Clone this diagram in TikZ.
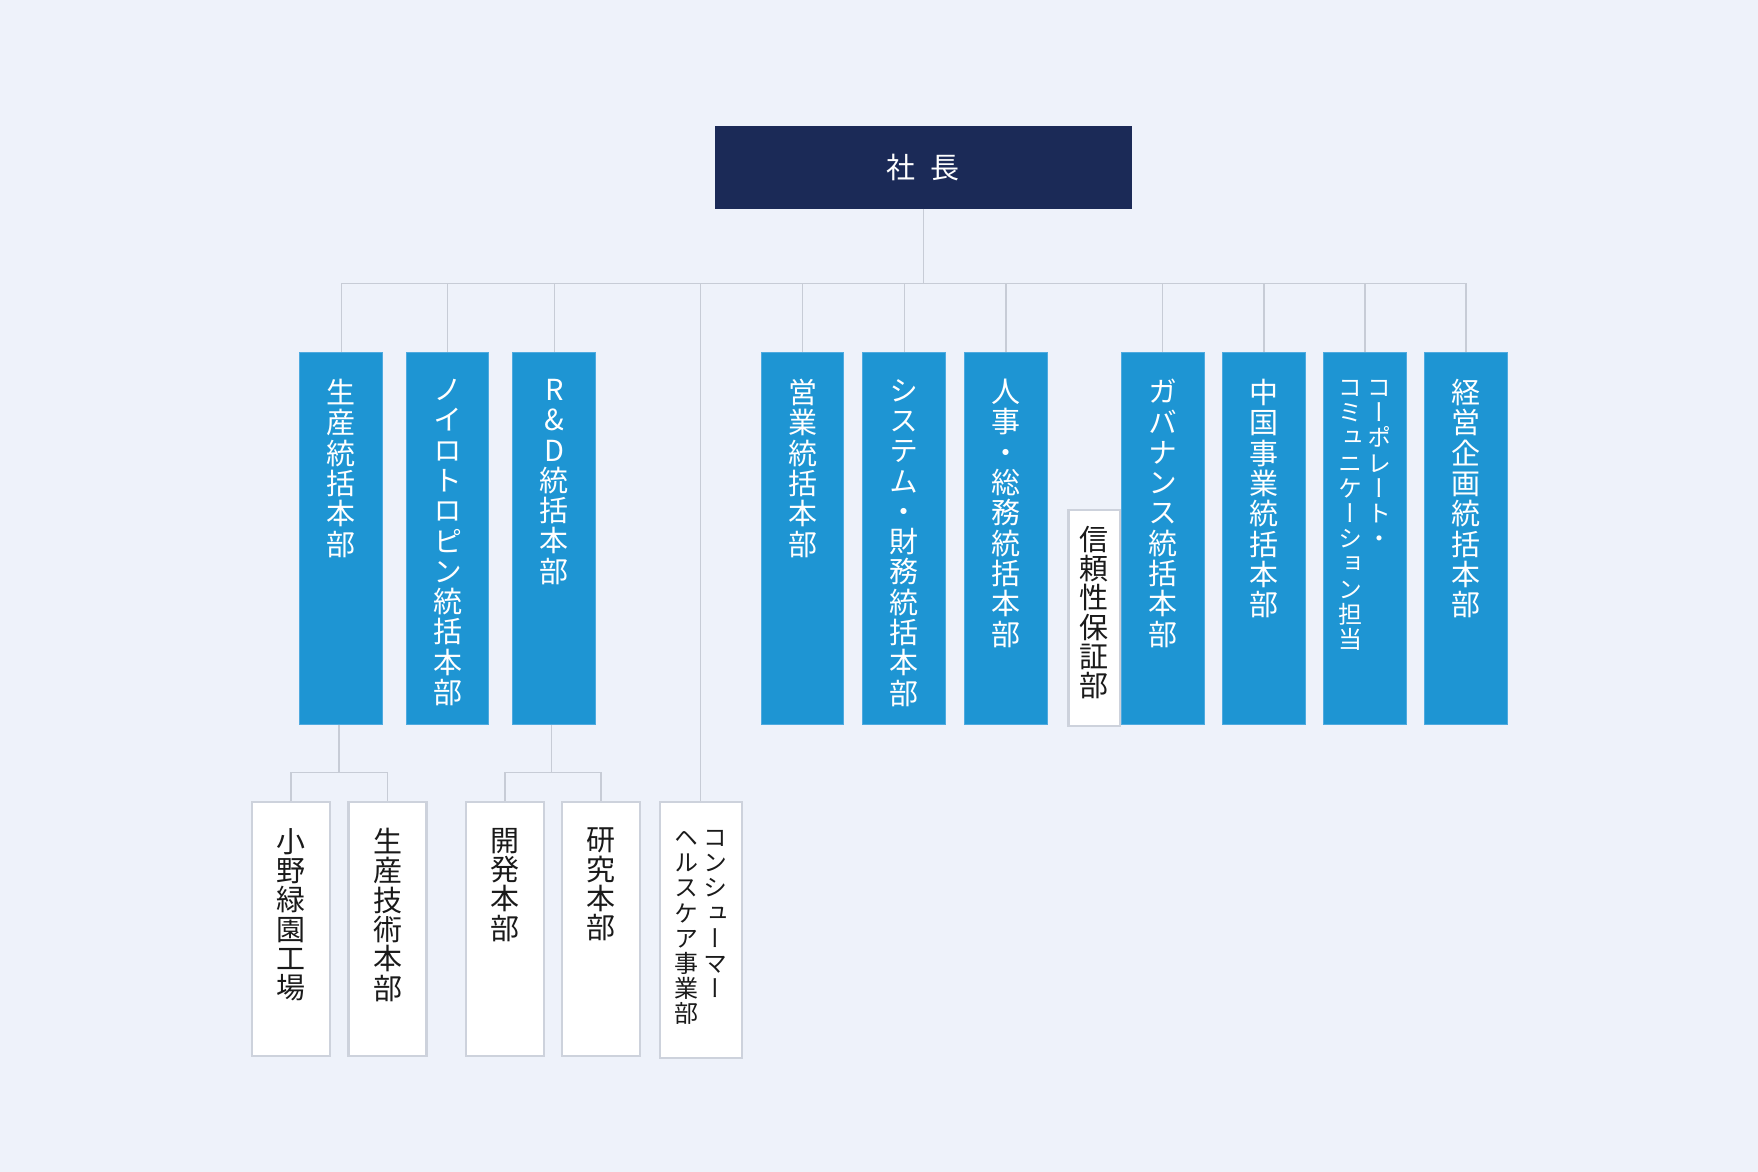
\documentclass[tikz,border=0pt]{standalone}
\usepackage{fontspec}
\setmainfont{Noto Sans CJK JP}
\newfontfamily\vjp{Noto Sans CJK JP}[RawFeature=+vert]
\usetikzlibrary{positioning}

\definecolor{bgc}{HTML}{EEF2FA}
\definecolor{navy}{HTML}{1B2A57}
\definecolor{deptblue}{HTML}{1E95D3}
\definecolor{deptedge}{HTML}{4FAADF}
\definecolor{lineg}{HTML}{C7CCD6}
\definecolor{boxedge}{HTML}{CDD2DC}
\definecolor{ink}{HTML}{1A1A1A}

% stack the characters of #1 one under the other
\newcommand\vtxt[1]{\edef\vtmp{#1}\vtop{\lineskiplimit=-50pt\expandafter\vtxtA\vtmp\relax}}
\newcommand\vtxtA[1]{\ifx\relax#1\else\hbox to 1em{\hss#1\hss}\expandafter\vtxtA\fi}

\begin{document}
\begin{tikzpicture}[x=1pt,y=-1pt,
  chief/.style={fill=navy,text=white,minimum width=416.7,minimum height=83,inner sep=0,
    font=\fontsize{29}{30}\selectfont},
  dept/.style={fill=deptblue,draw=deptedge,line width=0.8pt,minimum width=82.7,
    minimum height=372.2,inner sep=0,anchor=north},
  sect/.style={fill=white,draw=boxedge,line width=2.2pt,minimum width=78,
    minimum height=253.8,inner sep=0,anchor=north},
  vlabel/.style={inner sep=0,text=white,font=\vjp\fontsize{29}{30.3}\selectfont},
  slabel/.style={inner sep=0,text=ink,font=\vjp\fontsize{29}{29.3}\selectfont},
  small/.style={font=\vjp\fontsize{24}{25.2}\selectfont},
  conn/.style={draw=lineg,line width=1.4pt}]

  \fill[bgc] (0,0) rectangle (1758,1172);
  \useasboundingbox (0,0) rectangle (1758,1172);

  % top
  \node[chief] (ceo) at (923.3,167.2) {社\hspace{15pt}長};

  % Departments
  \node[fill=white,draw=boxedge,line width=2.2pt,minimum width=51.5,minimum height=215.8,
    inner sep=0,anchor=north] (rel) at (1094.2,508.8) {};
  \foreach \x [count=\i] in {341.2,447.5,554.2,802.5,904.2,1006,1162.7,1263.9,1364.9,1466}
    \node[dept] (d\i) at (\x,352) {};

  \foreach \x/\t [count=\i] in {291/小野緑園工場,387.5/生産技術本部,504.8/開発本部,601/研究本部}
    \node[sect] (s\i) at (\x,801) {} node[slabel,below=27pt of s\i.north] (st\i) {\vtxt{\t}};
  \node[sect,minimum width=81.8,minimum height=255.6] (csm) at (700.7,801) {};

  % connectors
  \coordinate (bus) at (923.3,283.3);
  \coordinate (j1) at (339,772.3);
  \coordinate (j2) at (551.3,772.3);
  \draw[conn] (ceo.south) -- (bus);
  \draw[conn] (bus -| d1.north) -- (bus -| d10.north);
  \foreach \i in {1,...,10}{
  \draw[conn] (bus -| d\i.north) -- (d\i.north);
  }
  \draw[conn] (bus -| csm.north) -- (csm.north);
  \draw[conn] (d1.south -| j1) -- (j1);
  \draw[conn] (s1.north) |- (j1) -| (s2.north);
  \draw[conn] (d3.south -| j2) -- (j2);
  \draw[conn] (s3.north) |- (j2) -| (s4.north);

  % Annotations
  \foreach \t [count=\i] in {生産統括本部,ノイロトロピン統括本部,R\&D統括本部,営業統括本部,
      システム・財務統括本部,人事・総務統括本部,ガバナンス統括本部,中国事業統括本部}
    \node[vlabel,below=27pt of d\i.north] (t\i) {\vtxt{\t}};
  \node[vlabel,below=27pt of d10.north] (t10) {\vtxt{経営企画統括本部}};
  \node[vlabel,small,below=28pt of d9.north] (t9)
    {\vtxt{コミュニケーション担当}\hskip 5.3pt\vtxt{コーポレート・}};
  \node[slabel,below=17pt of rel.north] (rt) {\vtxt{信頼性保証部}};
  \node[slabel,small,below=29pt of csm.north] (ct)
    {\vtxt{ヘルスケア事業部}\hskip 5.3pt\vtxt{コンシューマー}};

\end{tikzpicture}
\end{document}
